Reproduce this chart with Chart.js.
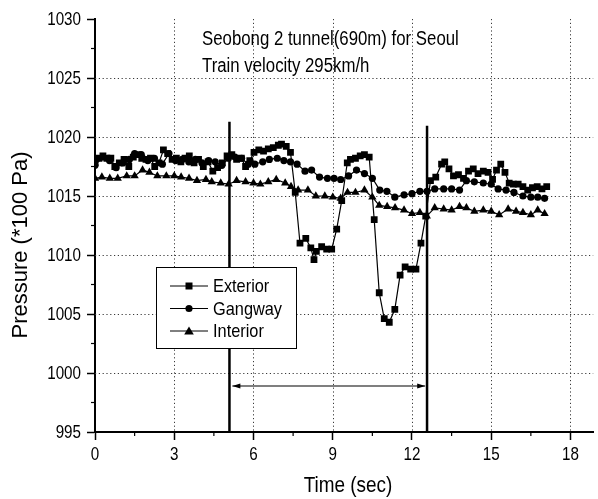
<!DOCTYPE html>
<html>
<head>
<meta charset="utf-8">
<script src="https://cdn.jsdelivr.net/npm/chart.js@4.4.0/dist/chart.umd.min.js"></script>
<style>
html, body { margin: 0; padding: 0; background: #fff; }
#wrap { width: 598px; height: 499px; }
</style>
</head>
<body>
<div id="wrap"><canvas id="chart" width="598" height="499"></canvas></div>
<script>
// values (time in sec, pressure in *100 Pa)
const extTime = [0.0, 0.15, 0.3, 0.45, 0.6, 0.75, 0.92, 1.1, 1.28, 1.45, 1.61, 1.77, 1.93, 2.1, 2.26, 2.42, 2.59, 2.75, 2.92, 3.08,
    3.25, 3.41, 3.57, 3.75, 3.92, 4.1, 4.28, 4.46, 4.64, 4.82, 5.0, 5.18, 5.36, 5.54, 5.7, 5.86, 6.02, 6.2, 6.38, 6.56,
    6.75, 6.94, 7.06, 7.24, 7.4, 7.58, 7.76, 7.98, 8.17, 8.29, 8.38, 8.58, 8.77, 8.96, 9.15, 9.34, 9.55, 9.67, 9.86, 10.04,
    10.2, 10.38, 10.57, 10.76, 10.95, 11.14, 11.35, 11.55, 11.74, 11.95, 12.15, 12.34, 12.52, 12.7, 12.9, 13.12, 13.24, 13.4, 13.57, 13.76,
    13.95, 14.14, 14.32, 14.5, 14.7, 14.88, 15.05, 15.2, 15.36, 15.52, 15.68, 15.84, 16.02, 16.2, 16.38, 16.56, 16.74, 16.92, 17.1];
const extPressure = [1017.8, 1018.2, 1018.4, 1018.2, 1018.2, 1017.5, 1017.8, 1018.1, 1017.5, 1018.3, 1018.5, 1018.2, 1018.1, 1018.2, 1017.5, 1017.8, 1018.9, 1018.6, 1018.1, 1018.2,
    1017.9, 1018.2, 1018.4, 1017.8, 1018.1, 1017.5, 1017.9, 1017.1, 1017.4, 1017.8, 1018.4, 1018.5, 1018.1, 1018.2, 1017.5, 1018.0, 1018.7, 1018.9, 1018.8, 1019.0,
    1019.1, 1019.3, 1019.4, 1019.2, 1018.7, 1015.3, 1011.0, 1011.4, 1010.6, 1009.6, 1010.3, 1010.7, 1010.5, 1010.5, 1012.2, 1014.6, 1017.8, 1018.1, 1018.2, 1018.4,
    1018.5, 1018.3, 1013.0, 1006.8, 1004.6, 1004.3, 1005.4, 1008.3, 1009.0, 1008.8, 1008.8, 1011.0, 1013.3, 1016.3, 1016.6, 1017.7, 1017.9, 1017.3, 1016.7, 1016.8,
    1016.5, 1017.1, 1017.3, 1016.9, 1017.1, 1017.0, 1016.4, 1017.2, 1017.7, 1017.0, 1016.1, 1016.0, 1016.0, 1015.8, 1015.5, 1015.7, 1015.8, 1015.6, 1015.8];

const gangTime = [0.0, 0.3, 0.55, 0.8, 1.05, 1.3, 1.5, 1.75, 2.0, 2.25, 2.55, 2.8, 3.05, 3.3, 3.55, 3.8, 4.05, 4.3, 4.55, 4.8,
    5.05, 5.3, 5.55, 5.8, 6.05, 6.35, 6.6, 6.9, 7.15, 7.4, 7.65, 7.95, 8.2, 8.5, 8.8, 9.05, 9.3, 9.6, 9.9, 10.2,
    10.5, 10.78, 11.05, 11.35, 11.7, 12.0, 12.3, 12.57, 12.86, 13.2, 13.5, 13.8, 14.06, 14.36, 14.7, 15.0, 15.26, 15.56, 15.86, 16.2,
    16.5, 16.76, 17.02];
const gangPressure = [1017.6, 1018.3, 1018.0, 1017.4, 1017.8, 1018.1, 1018.6, 1018.5, 1018.0, 1018.2, 1017.7, 1018.6, 1018.0, 1018.1, 1017.9, 1018.1, 1017.8, 1018.0, 1017.9, 1017.6,
    1018.2, 1018.3, 1018.2, 1017.7, 1017.7, 1017.9, 1018.1, 1018.2, 1018.0, 1017.9, 1017.7, 1017.1, 1017.2, 1016.6, 1016.5, 1016.5, 1016.4, 1016.7, 1017.2, 1016.9,
    1016.5, 1015.5, 1015.4, 1014.9, 1015.1, 1015.2, 1015.4, 1015.4, 1015.6, 1015.6, 1015.6, 1015.5, 1016.3, 1016.2, 1016.1, 1016.0, 1015.6, 1015.5, 1015.3, 1015.0,
    1014.9, 1014.9, 1014.8];

const intTime = [0.0, 0.26, 0.56, 0.86, 1.2, 1.5, 1.8, 2.06, 2.36, 2.7, 3.0, 3.26, 3.56, 3.86, 4.2, 4.42, 4.76, 5.06, 5.36, 5.7,
    6.0, 6.26, 6.56, 6.86, 7.2, 7.42, 7.69, 8.06, 8.36, 8.7, 9.0, 9.3, 9.56, 9.86, 10.2, 10.5, 10.76, 11.06, 11.36, 11.7,
    12.0, 12.3, 12.56, 12.86, 13.2, 13.5, 13.8, 14.06, 14.36, 14.7, 15.0, 15.3, 15.64, 15.94, 16.2, 16.5, 16.76, 17.02];
const intPressure = [1016.5, 1016.6, 1016.5, 1016.5, 1016.7, 1016.7, 1017.2, 1017.0, 1016.7, 1016.7, 1016.7, 1016.6, 1016.5, 1016.3, 1016.4, 1016.2, 1016.1, 1016.0, 1016.3, 1016.2,
    1016.1, 1016.0, 1016.2, 1016.4, 1016.1, 1015.8, 1015.5, 1015.5, 1015.0, 1015.0, 1014.9, 1014.8, 1015.3, 1015.3, 1015.5, 1014.9, 1014.2, 1014.1, 1014.0, 1013.8,
    1013.5, 1013.6, 1013.3, 1014.0, 1013.9, 1013.8, 1014.1, 1014.0, 1013.7, 1013.8, 1013.7, 1013.4, 1013.9, 1013.7, 1013.6, 1013.4, 1013.8, 1013.5];

const seriesNames = ['Exterior', 'Gangway', 'Interior'];
const xTicks = [0, 3, 6, 9, 12, 15, 18];
const yTicks = [995, 1000, 1005, 1010, 1015, 1020, 1025, 1030];
const xMinor = [1.5, 4.5, 7.5, 10.5, 13.5, 16.5];
const yMinor = [997.5, 1002.5, 1007.5, 1012.5, 1017.5, 1022.5, 1027.5];

// tunnel entry / exit markers and the arrow between them
const tunnelLines = [{ t: 5.09, top: 1021.3 }, { t: 12.57, top: 1020.95 }];
const arrowSpan = { from: 5.2, to: 12.5, p: 998.9 };
const titleLines = ['Seobong 2 tunnel(690m) for Seoul', 'Train velocity 295km/h'];

const FONT = "'Liberation Sans', Arial, sans-serif";
const SQUEEZE = 0.84;   // the original text is narrow
const markers = ['rect', 'circle', 'triangle'];
const markerSize = [4.8, 3.6, 4.8];

function toPoints(ts, ps) {
    return ts.map((t, i) => ({ x: t, y: ps[i] }));
}

// narrow text: squeeze horizontally around the anchor point
function narrowText(ctx, text, x, y, align, sx) {
    ctx.save();
    ctx.translate(x, y);
    ctx.scale(sx || SQUEEZE, 1);
    ctx.textAlign = align;
    ctx.fillText(text, 0, 0);
    ctx.restore();
}

const decor = {
    id: 'decor',
    beforeDatasetsDraw(chart) {
        const ctx = chart.ctx;
        const xs = chart.scales.x, ys = chart.scales.y;
        const area = chart.chartArea;
        ctx.save();
        ctx.strokeStyle = '#3a3a3a';
        ctx.lineWidth = 1;
        ctx.setLineDash([1.2, 2.6]);
        xTicks.filter(v => v > 0).forEach(v => {
            const x = Math.round(xs.getPixelForValue(v)) + 0.5;
            ctx.beginPath(); ctx.moveTo(x, area.top); ctx.lineTo(x, area.bottom); ctx.stroke();
        });
        yTicks.filter(v => v > 995 && v < 1030).forEach(v => {
            const y = Math.round(ys.getPixelForValue(v)) + 0.5;
            ctx.beginPath(); ctx.moveTo(area.left, y); ctx.lineTo(area.right, y); ctx.stroke();
        });
        ctx.restore();
    },
    afterDatasetsDraw(chart) {
        const ctx = chart.ctx;
        const xs = chart.scales.x, ys = chart.scales.y;
        ctx.save();
        ctx.strokeStyle = '#000';
        ctx.lineWidth = 2.5;
        tunnelLines.forEach(l => {
            const x = xs.getPixelForValue(l.t);
            ctx.beginPath();
            ctx.moveTo(x, ys.getPixelForValue(l.top));
            ctx.lineTo(x, ys.getPixelForValue(995));
            ctx.stroke();
        });
        // arrow
        const ay = ys.getPixelForValue(arrowSpan.p);
        const ax1 = xs.getPixelForValue(arrowSpan.from), ax2 = xs.getPixelForValue(arrowSpan.to);
        ctx.lineWidth = 1.2;
        ctx.beginPath();
        ctx.moveTo(ax1, ay);
        ctx.lineTo(ax2, ay);
        ctx.stroke();
        ctx.fillStyle = '#000';
        ctx.beginPath();
        ctx.moveTo(ax1, ay); ctx.lineTo(ax1 + 8, ay - 2.5); ctx.lineTo(ax1 + 8, ay + 2.5); ctx.closePath();
        ctx.fill();
        ctx.beginPath();
        ctx.moveTo(ax2, ay); ctx.lineTo(ax2 - 8, ay - 2.5); ctx.lineTo(ax2 - 8, ay + 2.5); ctx.closePath();
        ctx.fill();
        ctx.restore();
    },
    afterDraw(chart) {
        const ctx = chart.ctx;
        const xs = chart.scales.x, ys = chart.scales.y;
        const area = chart.chartArea;
        ctx.save();
        ctx.strokeStyle = '#000';
        ctx.fillStyle = '#000';
        ctx.lineWidth = 1.2;
        // minor ticks
        xMinor.forEach(v => {
            const x = xs.getPixelForValue(v);
            ctx.beginPath(); ctx.moveTo(x, area.bottom); ctx.lineTo(x, area.bottom + 4); ctx.stroke();
        });
        yMinor.forEach(v => {
            const y = ys.getPixelForValue(v);
            ctx.beginPath(); ctx.moveTo(area.left, y); ctx.lineTo(area.left - 4, y); ctx.stroke();
        });

        // tick labels
        ctx.font = '19px ' + FONT;
        ctx.textBaseline = 'middle';
        yTicks.forEach(v => narrowText(ctx, String(v), area.left - 14, ys.getPixelForValue(v) + 1, 'right', 0.8));
        ctx.textBaseline = 'top';
        xTicks.forEach(v => narrowText(ctx, String(v), xs.getPixelForValue(v), area.bottom + 13, 'center', 0.8));

        // legend box
        const bx = 156, by = 267, bw = 140, bh = 81;
        ctx.fillStyle = '#fff';
        ctx.fillRect(bx, by, bw, bh);
        ctx.lineWidth = 1;
        ctx.strokeRect(bx + 0.5, by + 0.5, bw, bh);
        ctx.font = '19px ' + FONT;
        ctx.textBaseline = 'middle';
        seriesNames.forEach((name, i) => {
            const y = 286 + i * 22.5;
            ctx.strokeStyle = '#000';
            ctx.lineWidth = 1;
            ctx.beginPath(); ctx.moveTo(170, y); ctx.lineTo(208, y); ctx.stroke();
            ctx.fillStyle = '#000';
            ctx.beginPath();
            if (i === 0) ctx.rect(185.5, y - 3.5, 7, 7);
            else if (i === 1) ctx.arc(189, y, 3.6, 0, Math.PI * 2);
            else { ctx.moveTo(189, y - 4.5); ctx.lineTo(193.8, y + 3.4); ctx.lineTo(184.2, y + 3.4); ctx.closePath(); }
            ctx.fill();
            narrowText(ctx, name, 213, y + 1, 'left', 0.86);
        });

        // title text inside plot
        ctx.font = '20px ' + FONT;
        ctx.textBaseline = 'alphabetic';
        narrowText(ctx, titleLines[0], 202, 45, 'left');
        narrowText(ctx, titleLines[1], 202, 72, 'left');

        // axis titles
        ctx.font = '22px ' + FONT;
        ctx.textBaseline = 'middle';
        narrowText(ctx, 'Time (sec)', 348, 486, 'center', 0.86);
        ctx.translate(21, 245);
        ctx.rotate(-Math.PI / 2);
        ctx.textAlign = 'center';
        ctx.fillText('Pressure (*100 Pa)', 0, 0);
        ctx.restore();
    }
};

const ctx = document.getElementById('chart').getContext('2d');
const chart = new Chart(ctx, {
    type: 'line',
    data: {
        datasets: [
            { label: seriesNames[0], data: toPoints(extTime, extPressure) },
            { label: seriesNames[1], data: toPoints(gangTime, gangPressure) },
            { label: seriesNames[2], data: toPoints(intTime, intPressure) }
        ].map((d, i) => Object.assign(d, {
            borderColor: '#000',
            borderWidth: 1.2,
            backgroundColor: '#000',
            pointStyle: markers[i],
            pointRadius: markerSize[i],
            pointBackgroundColor: '#000',
            pointBorderColor: '#000',
            pointBorderWidth: 0,
            tension: 0,
            fill: false
        }))
    },
    options: {
        responsive: false,
        animation: false,
        layout: { padding: { top: 19, right: 0, left: 0, bottom: 0 } },
        plugins: {
            legend: { display: false },
            tooltip: { enabled: false }
        },
        scales: {
            x: {
                type: 'linear',
                min: 0,
                max: 18.86,
                afterBuildTicks: s => { s.ticks = xTicks.map(v => ({ value: v })); },
                afterFit: s => { s.height = 67; },
                grid: {
                    drawOnChartArea: false,
                    tickLength: 8,
                    tickColor: '#000',
                    tickWidth: 1.5
                },
                border: { display: true, color: '#000', width: 2 },
                ticks: { display: false }
            },
            y: {
                type: 'linear',
                min: 995,
                max: 1030,
                afterBuildTicks: s => { s.ticks = yTicks.map(v => ({ value: v })); },
                afterFit: s => { s.width = 95; },
                grid: {
                    drawOnChartArea: false,
                    tickLength: 8,
                    tickColor: '#000',
                    tickWidth: 1.5
                },
                border: { display: true, color: '#000', width: 2 },
                ticks: { display: false }
            }
        }
    },
    plugins: [decor]
});
</script>
</body>
</html>
